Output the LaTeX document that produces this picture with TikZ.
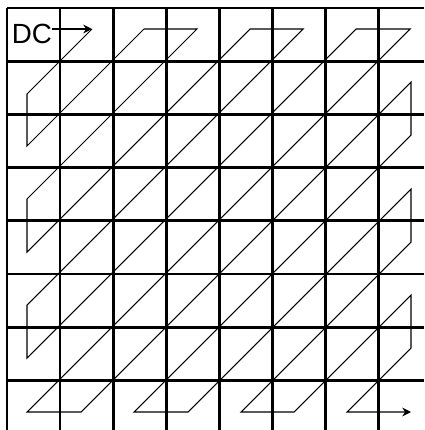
\documentclass[tikz,border=0pt]{standalone}
\usepackage{fontspec}
\setmainfont{Liberation Sans}
\usetikzlibrary{arrows.meta}

\begin{document}
\begin{tikzpicture}[x=0.02cm, y=-0.02cm,
    gridline/.style={line width=1.5pt, black},
    scanline/.style={line width=0.6pt, black, line join=miter},
    scantip/.style={-{Stealth[length=5pt, width=5pt]}}]
    \useasboundingbox (0, 0) rectangle (424, 430);

    % Raster 8x8
    \foreach \i in {0,...,7} {
        \draw[gridline] ({7+53.1*\i}, 8) -- ({7+53.1*\i}, 430);
        \draw[gridline] (7, {8+53.2*\i}) -- (424, {8+53.2*\i});
    }

    % DC-Koeffizient
    \node[font=\fontsize{15.8}{18}\selectfont, inner sep=0pt] (dc) at (32, 34) {DC};
    \coordinate (start) at (92, 29);
    \draw[scanline, scantip] (dc.east |- start) -- (start);

    % Zickzack-Abtastung
    \draw[scanline, scantip] (start) -- (27, 94) -- (27, 146) -- (144, 29)
        -- (197, 29) -- (27, 199) -- (27, 252) -- (250, 29)
        -- (303, 29) -- (27, 305) -- (27, 358) -- (356, 29)
        -- (410, 29) -- (27, 412) -- (81, 412) -- (411, 82)
        -- (411, 135) -- (134, 412) -- (188, 412) -- (411, 189)
        -- (411, 242) -- (241, 412) -- (294, 412) -- (411, 295)
        -- (411, 348) -- (347, 412) -- (411, 412);
\end{tikzpicture}
\end{document}
